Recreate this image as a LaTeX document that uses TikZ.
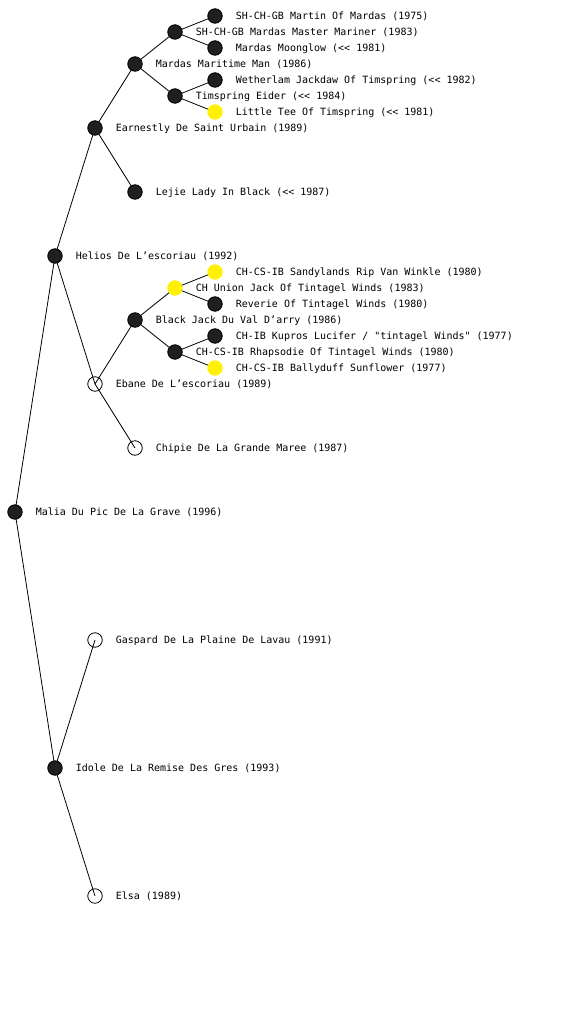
\documentclass[tikz,border=0pt]{standalone}
\usepackage{fontspec}
\setmonofont{DejaVu Sans Mono}
\usetikzlibrary{positioning,backgrounds}
\begin{document}
\begin{tikzpicture}[x=1pt,y=-1pt,
  dot/.style={circle,inner sep=0pt,minimum size=14.5pt,line width=0.8pt},
  dark/.style={dot,draw=black,fill=black!88},
  open/.style={dot,draw=black},
  yel/.style={dot,draw=yellow,fill=yellow},
  lbl/.style={inner sep=0pt,anchor=west,font=\ttfamily\fontsize{10}{12}\selectfont,right=13pt of #1,yshift=-0.8pt},
  edge/.style={draw=black,line width=0.8pt}]
\useasboundingbox (0,0) rectangle (560,1024);
% level 0
\node[dark] (malia) at (15,512) {};
% level 1
\node[dark] (helios) at (55,256) {};
\node[dark] (idole) at (55,768) {};
% level 2
\node[dark] (earn) at (95,128) {};
\node[open] (ebane) at (95,384) {};
\node[open] (gasp) at (95,640) {};
\node[open] (elsa) at (95,896) {};
% level 3
\node[dark] (mmm) at (135,64) {};
\node[dark] (lejie) at (135,192) {};
\node[dark] (bj) at (135,320) {};
\node[open] (chip) at (135,448) {};
% level 4
\node[dark] (mmar) at (175,32) {};
\node[dark] (teid) at (175,96) {};
\node[yel] (uj) at (175,288) {};
\node[dark] (rhap) at (175,352) {};
% level 5
\node[dark] (mart) at (215,16) {};
\node[dark] (moon) at (215,48) {};
\node[dark] (weth) at (215,80) {};
\node[yel] (ltee) at (215,112) {};
\node[yel] (sand) at (215,272) {};
\node[dark] (rev) at (215,304) {};
\node[dark] (kup) at (215,336) {};
\node[yel] (bally) at (215,368) {};
\begin{scope}[on background layer]
\foreach \a/\b in {malia/helios,malia/idole,helios/earn,helios/ebane,idole/gasp,idole/elsa,
  earn/mmm,earn/lejie,ebane/bj,ebane/chip,mmm/mmar,mmm/teid,bj/uj,bj/rhap,
  mmar/mart,mmar/moon,teid/weth,teid/ltee,uj/sand,uj/rev,rhap/kup,rhap/bally}
  \draw[edge] (\a.center) -- (\b.center);
\end{scope}
\node[lbl=malia] (tmalia) {Malia Du Pic De La Grave (1996)};
\node[lbl=helios] (thelios) {Helios De L’escoriau (1992)};
\node[lbl=idole] (tidole) {Idole De La Remise Des Gres (1993)};
\node[lbl=earn] (tearn) {Earnestly De Saint Urbain (1989)};
\node[lbl=ebane] (tebane) {Ebane De L’escoriau (1989)};
\node[lbl=gasp] (tgasp) {Gaspard De La Plaine De Lavau (1991)};
\node[lbl=elsa] (telsa) {Elsa (1989)};
\node[lbl=mmm] (tmmm) {Mardas Maritime Man (1986)};
\node[lbl=lejie] (tlejie) {Lejie Lady In Black (<< 1987)};
\node[lbl=bj] (tbj) {Black Jack Du Val D’arry (1986)};
\node[lbl=chip] (tchip) {Chipie De La Grande Maree (1987)};
\node[lbl=mmar] (tmmar) {SH-CH-GB Mardas Master Mariner (1983)};
\node[lbl=teid] (tteid) {Timspring Eider (<< 1984)};
\node[lbl=uj] (tuj) {CH Union Jack Of Tintagel Winds (1983)};
\node[lbl=rhap] (trhap) {CH-CS-IB Rhapsodie Of Tintagel Winds (1980)};
\node[lbl=mart] (tmart) {SH-CH-GB Martin Of Mardas (1975)};
\node[lbl=moon] (tmoon) {Mardas Moonglow (<< 1981)};
\node[lbl=weth] (tweth) {Wetherlam Jackdaw Of Timspring (<< 1982)};
\node[lbl=ltee] (tltee) {Little Tee Of Timspring (<< 1981)};
\node[lbl=sand] (tsand) {CH-CS-IB Sandylands Rip Van Winkle (1980)};
\node[lbl=rev] (trev) {Reverie Of Tintagel Winds (1980)};
\node[lbl=kup] (tkup) {CH-IB Kupros Lucifer / "tintagel Winds" (1977)};
\node[lbl=bally] (tbally) {CH-CS-IB Ballyduff Sunflower (1977)};
\end{tikzpicture}
\end{document}
